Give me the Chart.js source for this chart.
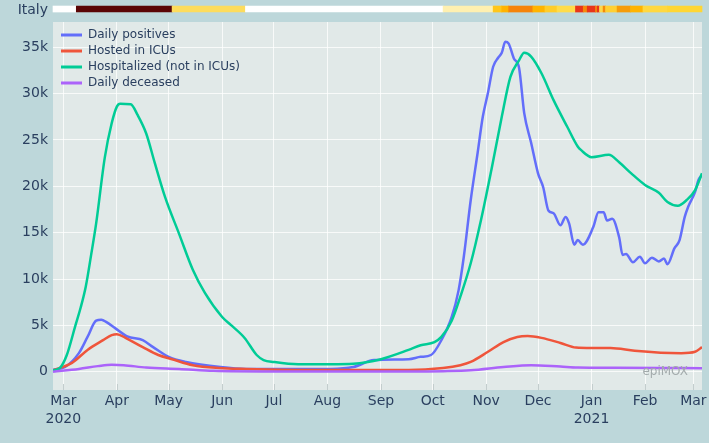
<!DOCTYPE html>
<html><head><meta charset="utf-8">
<script src="https://cdn.jsdelivr.net/npm/chart.js@4.4.0/dist/chart.umd.min.js"></script>
<style>
html,body{margin:0;padding:0;background:#bdd7da;}
#wrap{position:relative;width:709px;height:443px;overflow:hidden;}
canvas{position:absolute;left:0;top:0;}
</style></head><body>
<div id="wrap"><canvas id="main" width="709" height="443"></canvas></div>
<script>
// day numbers counted from 1 March 2020 (day 0)
const posDays = [-6,1,9,14,19,22,25,30,37,46,52,61,71,91,106,155,168,180,200,207,213,219,225,229,232,236,240,243,246,249,252,254,256,258,261,264,267,271,275,278,281,284,288,291,293,296,298,301,307,310,313,315,318,322,324,326,330,334,337,341,345,348,350,354,357,360,362,366,368,370];
const posVals = [200,500,2000,3750,5500,5600,5350,4700,3800,3400,2650,1600,1050,500,300,300,500,1250,1350,1600,1800,3400,5900,8800,12400,18500,23600,27500,30100,32900,33900,34400,35600,35400,33800,32800,27900,24700,21400,19900,17400,17100,15800,16700,16000,13700,14200,13700,15600,17200,17200,16300,16500,14500,12600,12700,11800,12400,11700,12300,11900,12200,11600,13300,14200,16700,17800,19400,20700,21200];

const icuDays = [-6,5,14,23,28,31,36,46,55,63,75,90,106,150,200,220,230,236,246,255,263,269,277,288,297,306,317,331,346,358,366,370];
const icuVals = [150,950,2350,3400,3950,4050,3650,2650,1800,1350,700,400,300,180,180,400,700,1050,2150,3200,3750,3850,3650,3100,2600,2550,2550,2250,2050,2000,2150,2650];

const hospDays = [-6,-2,2,7,10,13,16,19,24,28,31,33,39,43,48,53,59,67,75,82,92,97,105,112,116,122,136,155,168,184,200,207,215,219,225,230,236,242,248,254,259,264,267,271,277,284,292,298,300,306,316,322,329,337,345,350,356,361,366,370];
const hospVals = [150,400,1800,5000,6900,9200,12500,16000,23100,26800,28600,28900,28850,27700,25700,22500,18800,14900,11000,8500,5900,5050,3640,1800,1260,1050,800,800,850,1350,2350,2850,3200,3750,5500,8100,11700,16400,21800,27500,31800,33600,34400,34000,32200,29300,26400,24300,23900,23150,23400,22600,21400,20150,19300,18300,17900,18500,19600,21400];

const deadDays = [-6,9,20,28,35,48,67,87,120,200,220,236,255,271,288,298,320,346,370];
const deadVals = [0,300,600,750,700,450,300,100,30,30,60,150,500,700,550,450,420,400,380];

const seriesNames = ['Daily positives','Hosted in ICUs','Hospitalized (not in ICUs)','Daily deceased'];

const monthTickDays = [0,31,61,92,122,153,184,214,245,275,306,337,365];
const monthTickLabels = ['Mar\n2020','Apr','May','Jun','Jul','Aug','Sep','Oct','Nov','Dec','Jan\n2021','Feb','Mar'];
const yTickValues = [0,5000,10000,15000,20000,25000,30000,35000];

// restriction-level strip for Italy (day ranges and colours)
const stripLabel = 'Italy';
const stripStart = [-6,7.5,63,105.5,220,249,254,258,272,279,286,296.7,301.2,303.5,308.3,309.3,310.6,312.7,314.1,320.8,328.6,335.8,350];
const stripEnd   = [7.5,63,105.5,220,249,254,258,272,279,286,296.7,301.2,303.5,308.3,309.3,310.6,312.7,314.1,320.8,328.6,335.8,350,370];
const stripColors = ['#ffffff','#5a0606','#fddc5c','#ffffff','#fff0b0','#ffc61a','#ffb300','#f5840a','#ffb400','#ffcd2a','#ffdc4a','#e8361a','#f58a0a','#e8361a','#f58a0a','#e8361a','#ffd84a','#f58a0a','#ffd033','#f59c0a','#ffb400','#ffd840','#ffd633'];

const colors = ['#636efa','#ef553b','#00cc96','#ab63fa'];
const FONT = 'DejaVu Sans';
const TXT = '#2a3f5f';
// layout: the strip row is placed just above the plot, beyond the y range
const Y_MIN = -1975, Y_MAX = 37730, STRIP_ROW = 39130;

function pts(d, v){ return d.map((x,i)=>({x:x, y:v[i]})); }
const allDays = [posDays, icuDays, hospDays, deadDays];
const allVals = [posVals, icuVals, hospVals, deadVals];

const plotBg = {
  id:'plotBg',
  beforeDraw(chart){
    const {ctx, chartArea:a} = chart;
    ctx.save(); ctx.fillStyle = '#e1e9e8';
    ctx.fillRect(a.left, a.top, a.right-a.left, a.bottom-a.top);
    ctx.restore();
    if (chart.legend){ chart.legend.left = a.left + 4; chart.legend.top = a.top + 3; }
  },
  afterDatasetsDraw(chart){
    const {ctx, chartArea:a, scales} = chart;
    ctx.save();
    ctx.strokeStyle = '#c3cdcd'; ctx.lineWidth = 1;
    monthTickDays.forEach(d=>{
      const x = Math.round(scales.x.getPixelForValue(d)) + 0.5;
      ctx.beginPath(); ctx.moveTo(x, a.bottom - 6); ctx.lineTo(x, a.bottom); ctx.stroke();
    });
    ctx.fillStyle = '#a3abac'; ctx.font = '12px ' + FONT;
    ctx.textAlign = 'right'; ctx.textBaseline = 'middle';
    ctx.fillText('epiMOX', a.right - 14, a.bottom - 18);
    // row label of the strip
    ctx.fillStyle = TXT; ctx.font = '14px ' + FONT;
    ctx.fillText(stripLabel, a.left - 5, scales.y.getPixelForValue(STRIP_ROW) + 1);
    ctx.restore();
  }
};

const lineSets = seriesNames.map((n,i)=>({
  type: 'line',
  label: n,
  data: pts(allDays[i], allVals[i]),
  borderColor: colors[i], backgroundColor: colors[i],
  borderWidth: 2.5, pointRadius: 0, fill: false,
  cubicInterpolationMode: 'monotone',
  order: 4 - i
}));

const stripSet = {
  type: 'bar',
  label: stripLabel,
  indexAxis: 'y',
  data: stripStart.map((s,i)=>({ x: [s, stripEnd[i]], y: STRIP_ROW })),
  backgroundColor: stripColors, borderWidth: 0, borderSkipped: false,
  barThickness: 6, grouped: false, clip: false, order: 10
};

new Chart(document.getElementById('main'), {
  type: 'line',
  data: { datasets: [...lineSets, stripSet] },
  options: {
    responsive: false, animation: false, events: [],
    layout: { padding: { left: 0, top: 22, right: 7, bottom: 0 } },
    plugins: {
      tooltip: { enabled: false },
      legend: {
        position: 'chartArea', align: 'start',
        labels: {
          color: TXT, font: { family: FONT, size: 12 },
          boxWidth: 21, boxHeight: 3, padding: 4,
          filter: (it)=>it.datasetIndex < 4,
          sort: (a,b)=>a.datasetIndex-b.datasetIndex,
          generateLabels(chart){
            const items = Chart.defaults.plugins.legend.labels.generateLabels(chart);
            items.forEach(it=>{ it.lineWidth = 0; if (it.datasetIndex < 4) it.fillStyle = colors[it.datasetIndex]; });
            return items;
          }
        }
      }
    },
    scales: {
      x: {
        type: 'linear', min: -6, max: 370, offset: false,
        afterBuildTicks(s){ s.ticks = monthTickDays.map(v=>({value:v})); },
        afterFit(s){ s.height = 53; },
        grid: { color: 'rgba(255,255,255,0.75)', lineWidth: 1, drawTicks: false, offset: false },
        border: { display: false },
        ticks: {
          color: TXT, font: { family: FONT, size: 14, lineHeight: 1.3 }, padding: 2,
          maxRotation: 0, autoSkip: false,
          callback(v, i){ return monthTickLabels[i].split('\n'); }
        }
      },
      y: {
        type: 'linear', min: Y_MIN, max: Y_MAX, offset: false,
        afterBuildTicks(s){ s.ticks = yTickValues.map(v=>({value:v})); },
        afterFit(s){ s.width = 53; },
        grid: { color: 'rgba(255,255,255,0.75)', lineWidth: 1, drawTicks: false, offset: false },
        border: { display: false },
        ticks: {
          color: TXT, font: { family: FONT, size: 14 }, padding: 5,
          callback(v){ return v === 0 ? '0' : (v/1000) + 'k'; }
        }
      }
    }
  },
  plugins: [plotBg]
});
</script>
</body></html>
